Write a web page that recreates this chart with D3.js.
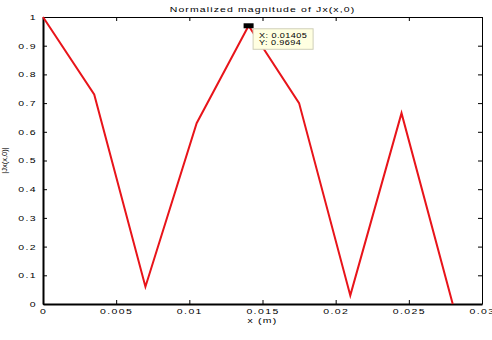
<!DOCTYPE html>
<html>
<head>
<meta charset="utf-8">
<script src="https://cdn.jsdelivr.net/npm/d3@7"></script>
<style>
  body { margin: 0; background: #fff; }
  text { font-family: "Liberation Sans", Arial, sans-serif; fill: #000; }
</style>
</head>
<body>
<div class="svg-container"></div>
<script>
// data
const xPos = [0, 0.0035, 0.007, 0.0105, 0.01405, 0.0175, 0.021, 0.0245, 0.028];
const magnitude = [1, 0.73, 0.06, 0.63, 0.9694, 0.70, 0.03, 0.665, 0.0];
const xTicks = [0, 0.005, 0.01, 0.015, 0.02, 0.025, 0.03];
const yTicks = [0, 0.1, 0.2, 0.3, 0.4, 0.5, 0.6, 0.7, 0.8, 0.9, 1];
const tip = { x: 0.01405, y: 0.9694 };

const width = 492;
const height = 340;
const margin = { top: 17, right: 10, bottom: 36, left: 43 };
const stretch = 1.4; // matlab export text looks horizontally stretched

const svg = d3.select('.svg-container')
  .append('svg')
  .attr('width', width)
  .attr('height', height);

const x = d3.scaleLinear().domain([0, 0.03]).range([margin.left, width - margin.right]);
const y = d3.scaleLinear().domain([0, 1]).range([height - margin.bottom, margin.top]);

const fmt = d => d === 0 ? '0' : String(+d.toFixed(3));

// axes (ticks pointing inward like matlab)
const axBottom = svg.append('g')
  .attr('transform', `translate(0,${y(0)})`)
  .call(d3.axisBottom(x).tickValues(xTicks).tickFormat(fmt).tickSizeInner(-4).tickSizeOuter(0));
const axTop = svg.append('g')
  .attr('transform', `translate(0,${y(1)})`)
  .call(d3.axisTop(x).tickValues(xTicks).tickFormat('').tickSizeInner(-4).tickSizeOuter(0));
const axLeft = svg.append('g')
  .attr('transform', `translate(${x(0)},0)`)
  .call(d3.axisLeft(y).tickValues(yTicks).tickFormat(fmt).tickSizeInner(-4).tickSizeOuter(0));
const axRight = svg.append('g')
  .attr('transform', `translate(${x(0.03)},0)`)
  .call(d3.axisRight(y).tickValues(yTicks).tickFormat('').tickSizeInner(-4).tickSizeOuter(0));

[axBottom, axTop, axLeft, axRight].forEach(g => {
  g.selectAll('text')
    .style('font-size', '7.5px')
    .style('letter-spacing', '1px')
    .style('font-family', '"Liberation Sans", Arial, sans-serif');
  g.selectAll('line').attr('stroke', '#000');
  g.select('.domain').attr('stroke', '#000');
});
axBottom.selectAll('text')
  .attr('y', 10).attr('dy', 0)
  .attr('transform', `scale(${stretch},1)`);
axLeft.selectAll('text')
  .attr('x', -6 / stretch)
  .attr('transform', `scale(${stretch},1)`);
axBottom.select('.domain').attr('stroke-width', 2);
axLeft.select('.domain').attr('stroke-width', 2);

// line
const line = d3.line().x((d, i) => x(xPos[i])).y(d => y(d));
svg.append('path')
  .datum(magnitude)
  .attr('d', line)
  .attr('fill', 'none')
  .attr('stroke', '#e8141a')
  .attr('stroke-width', 2)
  .attr('stroke-linejoin', 'miter');

// helper for stretched text
function label(px, py, str, size, spacing, anchor) {
  return svg.append('text')
    .attr('transform', `translate(${px},${py}) scale(${stretch},1)`)
    .attr('text-anchor', anchor || 'start')
    .style('font-size', size + 'px')
    .style('letter-spacing', spacing + 'px')
    .text(str);
}

// datatip
svg.append('rect')
  .attr('x', x(tip.x) - 5)
  .attr('y', y(tip.y) - 2.5)
  .attr('width', 10)
  .attr('height', 5)
  .attr('fill', '#000');

const bx = x(tip.x) + 4.5;
const by = y(tip.y) + 3;
svg.append('rect')
  .attr('x', bx)
  .attr('y', by)
  .attr('width', 60)
  .attr('height', 20.5)
  .attr('fill', '#ffffe1')
  .attr('stroke', '#cfcfb8')
  .attr('stroke-width', 1);
label(bx + 6, by + 9, `X: ${tip.x}`, 6.5, 0.3);
label(bx + 6, by + 15.8, `Y: ${tip.y}`, 6.5, 0.3);

// titles
const midX = (x(0) + x(0.03)) / 2;
label(midX, 12.3, 'Normalized magnitude of Jx(x,0)', 7.5, 0.8, 'middle');
label(midX, 323, 'x (m)', 7.5, 0.9, 'middle');

svg.append('text')
  .attr('transform', `translate(7,${y(0.5)}) rotate(-90)`)
  .attr('text-anchor', 'middle')
  .style('font-size', '7.5px')
  .text('|Jx(x,0)|');
</script>
</body>
</html>
